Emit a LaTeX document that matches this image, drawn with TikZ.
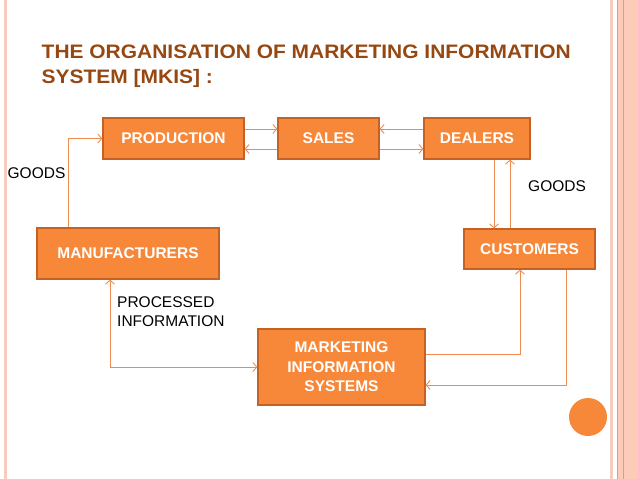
\documentclass[tikz,border=0pt]{standalone}
\usepackage{fontspec}
\setmainfont{Liberation Sans}
\newfontfamily\titlefont{Liberation Sans}[FakeStretch=1.075]
\usetikzlibrary{arrows.meta}
\definecolor{boxfill}{RGB}{247,136,58}
\definecolor{boxedge}{RGB}{196,98,38}
\definecolor{linecol}{RGB}{236,140,80}
\definecolor{titlecol}{RGB}{150,72,18}
\definecolor{framelight}{RGB}{246,204,190}
\definecolor{bandfill}{RGB}{253,204,184}
\definecolor{banddark}{RGB}{240,150,112}
\tikzset{
  box/.style={draw=boxedge, line width=1.2pt, fill=boxfill, text=white,
    font=\bfseries\fontsize{15.5}{19.5}\selectfont, align=center, inner sep=0pt},
  conn/.style={draw=linecol, line width=0.9pt, -{Straight Barb[length=4pt,width=9pt]}},
  conn2/.style={draw=linecol, line width=0.9pt, {Straight Barb[length=4pt,width=9pt]}-{Straight Barb[length=4pt,width=9pt]}},
  lbl/.style={font=\fontsize{15.5}{19}\selectfont, text=black, inner sep=0pt, align=left},
  ttl/.style={font=\titlefont\bfseries\fontsize{19.5}{25}\selectfont, text=titlecol, inner sep=0pt, anchor=base west}
}
\begin{document}
\begin{tikzpicture}[x=1pt,y=-1pt]
\useasboundingbox (0,0) rectangle (638,479);
% slide frame
\fill[framelight] (4,0) rectangle (7,479);
\fill[framelight] (610,0) rectangle (612.5,479);
\fill[bandfill] (617,0) rectangle (638,479);
\fill[banddark] (617,0) rectangle (618,479);
\fill[banddark] (622.5,0) rectangle (623.7,479);
% title
\node[ttl] (t1) at (41.5,58.5) {THE ORGANISATION OF MARKETING INFORMATION};
\node[ttl] (t2) at (41.5,83) {SYSTEM [MKIS] :};
% boxes
\node[box, minimum width=141pt, minimum height=41pt] (P) at (173.5,138.5) {PRODUCTION};
\node[box, minimum width=101pt, minimum height=41pt] (S) at (328.5,138.5) {SALES};
\node[box, minimum width=106pt, minimum height=41pt] (D) at (477,138.5) {DEALERS};
\node[box, minimum width=182pt, minimum height=51pt] (M) at (128,253.5) {MANUFACTURERS};
\node[box, minimum width=131pt, minimum height=40pt] (C) at (529.5,249) {CUSTOMERS};
\node[box, minimum width=167pt, minimum height=76pt] (MIS) at (341.5,367) {MARKETING\\INFORMATION\\SYSTEMS};
% labels
\node[lbl] (g1) at (36.5,173) {GOODS};
\node[lbl, anchor=west] (g2) at (528,186) {GOODS};
\node[lbl, anchor=west] (pi) at (117,311.5) {PROCESSED\\INFORMATION};
% connectors
\draw[conn] ([yshift=9.5pt]P.east) -- ([yshift=9.5pt]S.west);
\draw[conn] ([yshift=-10.5pt]S.west) -- ([yshift=-10.5pt]P.east);
\draw[conn] ([yshift=9.5pt]D.west) -- ([yshift=9.5pt]S.east);
\draw[conn] ([yshift=-10.5pt]S.east) -- ([yshift=-10.5pt]D.west);
\draw[conn] ([xshift=17pt]D.south) -- ([xshift=17pt]D.south |- C.north);
\draw[conn] ([xshift=33pt]D.south |- C.north) -- ([xshift=33pt]D.south);
\draw[conn] ([xshift=-60pt]M.north) |- (P.west);
\draw[conn] ([yshift=13pt]MIS.east) -| ([xshift=-9.5pt]C.south);
\draw[conn] ([xshift=36.5pt]C.south) |- ([yshift=-18pt]MIS.east);
\draw[conn2] ([xshift=-18pt]M.south) |- (MIS.west);
% decoration circle
\fill[boxfill] (588,417) circle (19);
\end{tikzpicture}
\end{document}
